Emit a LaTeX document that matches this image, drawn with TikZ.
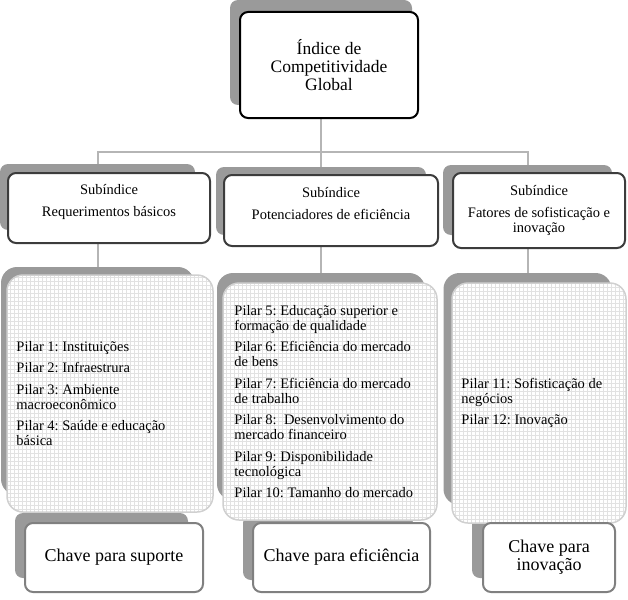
\documentclass[tikz,border=0pt]{standalone}
\usepackage{fontspec}
\setmainfont{Liberation Serif}
\usepackage{tikz}
\usetikzlibrary{calc}
\frenchspacing

\definecolor{cardgray}{HTML}{9A9A9A}
\definecolor{subline}{HTML}{3C3C3C}
\definecolor{pilline}{HTML}{D0D0D0}
\definecolor{keyline}{HTML}{808080}
\definecolor{connline}{HTML}{B5B5B5}
\definecolor{gridline}{HTML}{E2E2E2}

\begin{document}
\begin{tikzpicture}[x=1pt,y=-1pt,
    back/.style={fill=cardgray,rounded corners=8pt,inner sep=0pt},
    front/.style={fill=white,rounded corners=8pt,line width=2pt,align=center,inner sep=2pt},
    topbox/.style={front,draw=black,font=\fontsize{17.5}{18}\selectfont},
    subbox/.style={front,draw=subline,font=\fontsize{14.5}{15}\selectfont},
    pilback/.style={back,rounded corners=16pt},
    pilbox/.style={front,draw=pilline,line width=1.5pt,rounded corners=16pt,
      path picture={\draw[gridline,line width=0.3pt,step=4pt]
        (path picture bounding box.south west) grid (path picture bounding box.north east);}},
    piltext/.style={anchor=west,align=left,inner sep=0pt,font=\fontsize{14.5}{15}\selectfont},
    keybox/.style={front,draw=keyline,font=\fontsize{18}{18}\selectfont},
    conn/.style={draw=connline,line width=2pt}]
     \useasboundingbox (0,0) rectangle (628,599);

     %cartoes de tras
     \node[back,minimum width=182pt,minimum height=105pt] (topb) at (321,52.5) {};
     \node[back,minimum width=195pt,minimum height=66pt] (sub1b) at (97.5,197) {};
     \node[back,minimum width=210pt,minimum height=68pt] (sub2b) at (321,201) {};
     \node[back,minimum width=169pt,minimum height=70pt] (sub3b) at (527.5,200) {};
     \node[pilback,minimum width=193pt,minimum height=228pt] (pil1b) at (97.5,381) {};
     \node[pilback,minimum width=208pt,minimum height=227pt] (pil2b) at (321,386.5) {};
     \node[pilback,minimum width=168pt,minimum height=232pt] (pil3b) at (527.5,389) {};
     \node[back,minimum width=173pt,minimum height=65pt] (key1b) at (101.5,545.5) {};
     \node[back,minimum width=170pt,minimum height=65pt] (key2b) at (328,547.5) {};
     \node[back,minimum width=130pt,minimum height=65pt] (key3b) at (537,545.5) {};

     %ligacoes
     \coordinate (bus) at (321,152);
     \draw[conn] (topb.south) -- (sub2b.north);
     \draw[conn] (sub1b.north) |- (bus) -| (sub3b.north);
     \draw[conn] (sub1b.south) -- (pil1b.north);
     \draw[conn] (sub2b.south) -- (pil2b.north);
     \draw[conn] (sub3b.south) -- (pil3b.north);

     %cartoes da frente
     \node[topbox,minimum width=178pt,minimum height=106pt] (topf) at (329,65)
          {Índice de\\Competitividade\\Global};

     \node[subbox,minimum width=202pt,minimum height=70pt] (sub1f) at (109,208)
          {Subíndice\\[7pt]Requerimentos básicos\\ \mbox{}};
     \node[subbox,minimum width=214pt,minimum height=71pt] (sub2f) at (331,210.5)
          {Subíndice\\[7pt]Potenciadores de eficiência\\ \mbox{}};
     \node[subbox,minimum width=172pt,minimum height=75pt] (sub3f) at (539,210.5)
          {Subíndice\\[7pt]Fatores de sofisticação e\\inovação};

     \node[pilbox,minimum width=206pt,minimum height=237pt] (pil1f) at (110,393.5) {};
     \node[pilbox,minimum width=214pt,minimum height=237pt] (pil2f) at (330,401.5) {};
     \node[pilbox,minimum width=174pt,minimum height=240pt] (pil3f) at (539,403) {};

     \node[piltext] (pil1t) at ($(pil1f.west)+(10,0)$)
          {Pilar 1: Instituições\\[6.5pt]
           Pilar 2: Infraestrura\\[6.5pt]
           Pilar 3: Ambiente\\macroeconômico\\[6.5pt]
           Pilar 4: Saúde e educação\\básica};
     \node[piltext] (pil2t) at ($(pil2f.west)+(12,0)$)
          {Pilar 5: Educação superior e\\formação de qualidade\\[6.5pt]
           Pilar 6: Eficiência do mercado\\de bens\\[6.5pt]
           Pilar 7: Eficiência do mercado\\de trabalho\\[6.5pt]
           Pilar 8: \ Desenvolvimento do\\mercado financeiro\\[6.5pt]
           Pilar 9: Disponibilidade\\tecnológica\\[6.5pt]
           Pilar 10: Tamanho do mercado};
     \node[piltext] (pil3t) at ($(pil3f.west)+(10,0)$)
          {Pilar 11: Sofisticação de\\negócios\\[6.5pt]
           Pilar 12: Inovação};

     \node[keybox,minimum width=178pt,minimum height=69pt] (key1f) at (114,557.5)
          {Chave para suporte};
     \node[keybox,minimum width=177pt,minimum height=69pt] (key2f) at (341.5,557.5)
          {Chave para eficiência};
     \node[keybox,minimum width=132pt,minimum height=69pt] (key3f) at (549,557.5)
          {Chave para\\inovação};

\end{tikzpicture}
\end{document}
